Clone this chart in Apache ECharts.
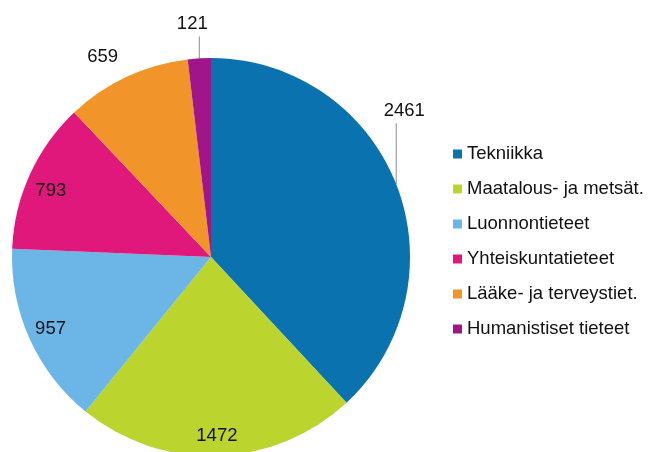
<!DOCTYPE html>
<html>
<head>
<meta charset="utf-8">
<script src="https://cdn.jsdelivr.net/npm/echarts@6/dist/echarts.min.js"></script>
<style>
  html, body { margin: 0; padding: 0; background: #fff; }
  #chart { width: 650px; height: 452px; }
</style>
</head>
<body>
<div id="chart"></div>
<script>
var categories = ['Tekniikka', 'Maatalous- ja metsät.', 'Luonnontieteet', 'Yhteiskuntatieteet', 'Lääke- ja terveystiet.', 'Humanistiset tieteet'];
var values = [2461, 1472, 957, 793, 659, 121];
var colors = ['#0a72ae', '#bcd42e', '#6bb6e7', '#e0187c', '#f1942a', '#a0168a'];
// true = label sits outside the pie, false = label near the rim inside
var outsideLabels = [true, false, false, false, true, true];

var font = '"Liberation Sans", Arial, sans-serif';

// outside label placement relative to the rim point: [dx, dy of label centre, dy of line top]
var labelOffsets = {0: [8, -73, -61], 4: [-24, -20, 0], 5: [-7, -34, -22]};
// small nudges for the inner labels
var rimNudge = [[0, 0], [0, 3], [0, 0], [0, 7], [0, 0], [0, 0]];

var mainData = categories.map(function (name, i) {
  return {
    name: name,
    value: values[i],
    label: {show: outsideLabels[i]},
    labelLine: {show: outsideLabels[i], lineStyle: {opacity: i === 4 ? 0 : 1}}
  };
});
var rimData = categories.map(function (name, i) {
  return {name: name, value: values[i], label: {show: !outsideLabels[i], offset: rimNudge[i]}};
});

var chart = echarts.init(document.getElementById('chart'));

chart.setOption({
  animation: false,
  color: colors,
  textStyle: {fontFamily: font},
  legend: {
    orient: 'vertical',
    left: 453,
    top: 144,
    padding: 0,
    icon: 'rect',
    itemWidth: 9,
    itemHeight: 9,
    itemGap: 15,
    data: categories,
    textStyle: {fontFamily: font, fontSize: 18.5, lineHeight: 20, color: '#111'}
  },
  series: [
    {
      type: 'pie',
      center: [211, 257],
      radius: 199,
      startAngle: 90,
      clockwise: true,
      avoidLabelOverlap: false,
      emphasis: {disabled: true},
      label: {
        position: 'outside',
        formatter: '{c}',
        fontFamily: font,
        fontSize: 18.5,
        color: '#111'
      },
      labelLine: {length: 20, length2: 0, lineStyle: {color: '#8c8c8c', width: 1}},
      labelLayout: function (params) {
        var off = labelOffsets[params.dataIndex];
        var pts = params.labelLinePoints;
        if (!off || !pts) return;
        var p = pts[0];
        return {
          x: p[0] + off[0],
          y: p[1] + off[1],
          align: 'center',
          verticalAlign: 'middle',
          labelLinePoints: [[p[0], p[1]], [p[0], p[1] + off[2]], [p[0], p[1] + off[2]]]
        };
      },
      data: mainData
    },
    {
      // invisible ring, only used to put the inner labels close to the rim
      type: 'pie',
      center: [211, 257],
      radius: [148, 198],
      startAngle: 90,
      clockwise: true,
      silent: true,
      emphasis: {disabled: true},
      itemStyle: {color: 'rgba(0,0,0,0)'},
      label: {
        position: 'inside',
        formatter: '{c}',
        fontFamily: font,
        fontSize: 18.5,
        color: '#111'
      },
      labelLine: {show: false},
      data: rimData
    }
  ]
});
</script>
</body>
</html>
